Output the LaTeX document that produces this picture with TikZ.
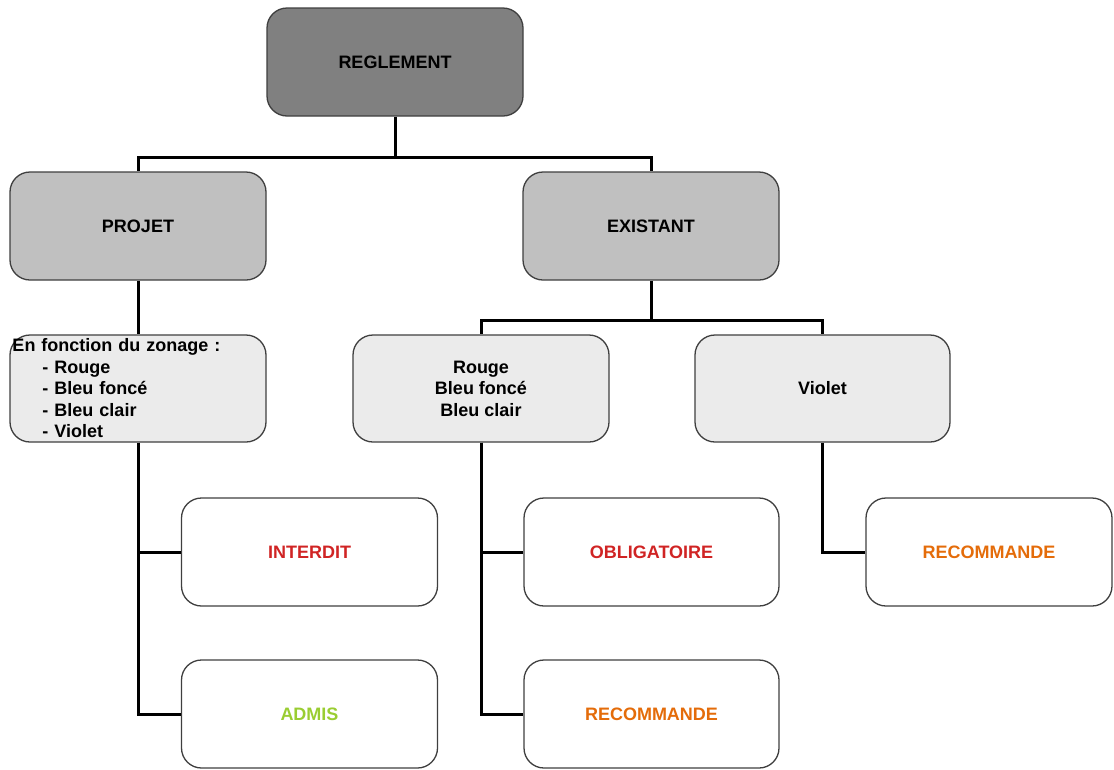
\documentclass[tikz,border=0pt]{standalone}
\usepackage{fontspec}
\setmainfont{Liberation Sans}
\usetikzlibrary{calc}

\definecolor{fondA}{HTML}{808080}
\definecolor{fondB}{HTML}{C0C0C0}
\definecolor{fondC}{HTML}{EBEBEB}
\definecolor{trait}{HTML}{3F3F3F}
\definecolor{rougeT}{HTML}{D02424}
\definecolor{orangeT}{HTML}{E46C0A}
\definecolor{vertT}{HTML}{9ACD32}

\begin{document}
\begin{tikzpicture}[x=1pt,y=-1pt,
    boite/.style={draw=trait, line width=1.3pt, rounded corners=20pt,
        minimum width=256pt, minimum height=108pt, inner sep=2pt, align=center,
        font=\fontsize{18}{21.5}\selectfont\bfseries},
    lien/.style={line width=3pt, black}]
    \useasboundingbox (0,0) rectangle (1114,769);

    % niveau 1
    \node[boite, fill=fondA] (regl) at (395,62) {REGLEMENT};
    % niveau 2
    \node[boite, fill=fondB] (projet) at (138,226) {PROJET};
    \node[boite, fill=fondB] (exist) at (651,226) {EXISTANT};
    % niveau 3
    \node[boite, fill=fondC, minimum height=107pt, text width=251pt, align=left] (zonage) at (138,388.5)
        {En fonction du zonage :\\
         \hspace*{30pt}- Rouge\\
         \hspace*{30pt}- Bleu fonc\'e\\
         \hspace*{30pt}- Bleu clair\\
         \hspace*{30pt}- Violet};
    \node[boite, fill=fondC, minimum height=107pt] (rbb) at (481,388.5)
        {Rouge\\Bleu fonc\'e\\Bleu clair};
    \node[boite, fill=fondC, minimum height=107pt, minimum width=255pt] (violet) at (822.5,388.5) {Violet};
    % niveau 4
    \node[boite, text=rougeT] (interdit) at (309.5,552) {INTERDIT};
    \node[boite, text=vertT] (admis) at (309.5,714) {ADMIS};
    \node[boite, text=rougeT, minimum width=255pt] (oblig) at (651.5,552) {OBLIGATOIRE};
    \node[boite, text=orangeT, minimum width=255pt] (recomB) at (651.5,714) {RECOMMANDE};
    \node[boite, text=orangeT, minimum width=246pt] (recomA) at (989,552) {RECOMMANDE};

    % liaisons
    \coordinate (j1) at (395,157);
    \coordinate (j2) at (651,320);
    \draw[lien] (regl.south) -- (j1) -| (projet.north);
    \draw[lien] (j1) -| (exist.north);
    \draw[lien] (projet.south) -- (zonage.north);
    \draw[lien] (exist.south) -- (j2) -| (rbb.north);
    \draw[lien] (j2) -| (violet.north);
    \draw[lien] (zonage.south) |- (interdit.west);
    \draw[lien] (zonage.south) |- (admis.west);
    \draw[lien] (rbb.south) |- (oblig.west);
    \draw[lien] (rbb.south) |- (recomB.west);
    \draw[lien] (violet.south) |- (recomA.west);
\end{tikzpicture}
\end{document}
